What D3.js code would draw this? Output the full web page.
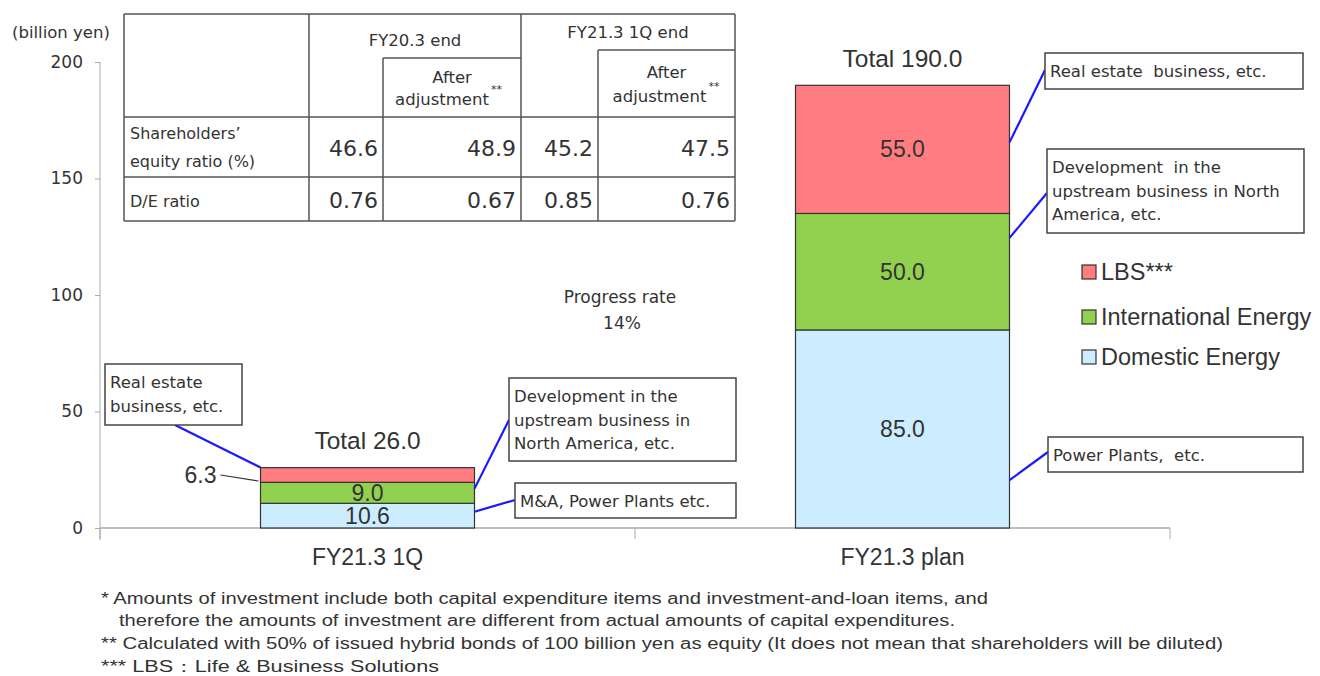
<!DOCTYPE html>
<html>
<head>
<meta charset="utf-8">
<title>Investment by segment</title>
<script src="https://cdn.jsdelivr.net/npm/d3@7"></script>
<style>
  body { margin: 0; background: #fff; }
  svg { display: block; }
  text { fill: #333; }
</style>
</head>
<body>
<div id="chart"></div>
<script>
// data
var categories = ["FY21.3 1Q", "FY21.3 plan"];
var segNames = ["Domestic Energy", "International Energy", "LBS***"];
var domestic = [10.6, 85.0];
var international = [9.0, 50.0];
var lbs = [6.3, 55.0];
var totals = [26.0, 190.0];
var yTicks = [0, 50, 100, 150, 200];

// table data
var tableRowLabels = [["Shareholders\u2019", "equity ratio (%)"], ["D/E ratio"]];
var equityRatio = [46.6, 48.9, 45.2, 47.5];
var deRatio = [0.76, 0.67, 0.85, 0.76];
var tableHeads = ["FY20.3 end", "FY21.3 1Q end"];

var progressRate = 14;

var footnotes = [
  "* Amounts of investment include both capital expenditure items and investment-and-loan items, and",
  "therefore the amounts of investment are different from actual amounts of capital expenditures.",
  "** Calculated with 50% of issued hybrid bonds of 100 billion yen as equity (It does not mean that shareholders will be diluted)",
  "*** LBS\uFF1ALife & Business Solutions"
];

var colors = { "Domestic Energy": "#CCECFF", "International Energy": "#92D050", "LBS***": "#FF7C80" };

var W = 1320, H = 676;
var svg = d3.select("#chart").append("svg").attr("width", W).attr("height", H);

var x = d3.scaleBand().domain(categories).range([100, 1170]).paddingInner(0.6).paddingOuter(0.3);
var y = d3.scaleLinear().domain([0, 200]).range([528, 62]);

// stacked rows
var rows = categories.map(function(c, i) {
  return { cat: c, "Domestic Energy": domestic[i], "International Energy": international[i], "LBS***": lbs[i] };
});
var series = d3.stack().keys(segNames)(rows);

// y axis
var yAxis = svg.append("g").attr("transform", "translate(100,0)")
  .call(d3.axisLeft(y).tickValues(yTicks).tickSize(5).tickSizeOuter(0).tickPadding(12));
yAxis.select(".domain").attr("stroke", "#aaa").attr("d", "M0," + y(200) + "V540");
yAxis.selectAll(".tick line").attr("stroke", "#aaa");
yAxis.selectAll(".tick text").style("font", "17px 'DejaVu Sans'").style("fill", "#333");

svg.append("text").attr("x", 12).attr("y", 38).style("font", "16.5px 'DejaVu Sans'").text("(billion yen)");

// x axis
var xAxis = svg.append("g").attr("transform", "translate(0," + y(0) + ")");
xAxis.append("line").attr("x1", 100).attr("x2", 1170).attr("stroke", "#aaa").attr("stroke-width", 1.5);
var bounds = [x.range()[0], (x(categories[0]) + x.bandwidth() + x(categories[1])) / 2, x.range()[1]];
xAxis.selectAll("line.tk").data(bounds).enter().append("line")
  .attr("x1", function(d) { return d; }).attr("x2", function(d) { return d; })
  .attr("y1", 0).attr("y2", 11).attr("stroke", "#aaa");
xAxis.selectAll("text").data(categories).enter().append("text")
  .attr("x", function(d) { return x(d) + x.bandwidth() / 2; })
  .attr("y", 37).attr("text-anchor", "middle")
  .style("font", "23px 'Liberation Sans'")
  .text(function(d) { return d; });

// bars
svg.append("g").selectAll("g").data(series).enter().append("g")
  .attr("fill", function(s) { return colors[s.key]; })
  .selectAll("rect").data(function(s) { return s; }).enter().append("rect")
  .attr("x", function(d) { return x(d.data.cat); })
  .attr("y", function(d) { return y(d[1]); })
  .attr("width", x.bandwidth())
  .attr("height", function(d) { return y(d[0]) - y(d[1]); })
  .attr("stroke", "#333").attr("stroke-width", 1.2);

// value labels inside bars (LBS of 1Q is outside)
series.forEach(function(s) {
  s.forEach(function(d, i) {
    var v = d[1] - d[0];
    var cx = x(d.data.cat) + x.bandwidth() / 2;
    var cy = y((d[0] + d[1]) / 2);
    if (s.key === "LBS***" && i === 0) {
      svg.append("text").attr("x", x(d.data.cat) - 44).attr("y", cy + 8)
        .attr("text-anchor", "end").style("font", "23px 'Liberation Sans'").text(v.toFixed(1));
      svg.append("line").attr("x1", x(d.data.cat) - 40).attr("y1", cy)
        .attr("x2", x(d.data.cat) - 2).attr("y2", cy + 6).attr("stroke", "#333").attr("stroke-width", 1.2);
      return;
    }
    svg.append("text").attr("x", cx).attr("y", cy + 8).attr("text-anchor", "middle")
      .style("font", "23px 'Liberation Sans'").text(v.toFixed(1));
  });
});

// totals
svg.selectAll("text.total").data(categories).enter().append("text")
  .attr("class", "total")
  .attr("x", function(d) { return x(d) + x.bandwidth() / 2; })
  .attr("y", function(d, i) { return y(totals[i]) - 18; })
  .attr("text-anchor", "middle")
  .style("font", "24.5px 'Liberation Sans'")
  .text(function(d, i) { return "Total " + totals[i].toFixed(1); });

// callouts: box layout + anchor on bar (cat index, side, value)
var callouts = [
  { lines: ["Real estate", "business, etc."], box: [105, 364, 137, 61], cat: 0, side: "left", v: 26.0, from: [175, 425] },
  { lines: ["Development in the", "upstream business in", "North America, etc."], box: [509, 378, 227, 83], cat: 0, side: "right", v: 16.9, from: [509, 420] },
  { lines: ["M&A, Power Plants etc."], box: [515, 483, 221, 35], cat: 0, side: "right", v: 7.0, from: [515, 500] },
  { lines: ["Real estate  business, etc."], box: [1045, 53, 258, 36], cat: 1, side: "right", v: 165.5, from: [1045, 70] },
  { lines: ["Development  in the", "upstream business in North", "America, etc."], box: [1047, 149, 257, 84], cat: 1, side: "right", v: 124.5, from: [1047, 193] },
  { lines: ["Power Plants,  etc."], box: [1048, 437, 255, 35], cat: 1, side: "right", v: 20.5, from: [1048, 452] }
];

callouts.forEach(function(c) {
  var bx = c.side === "left" ? x(categories[c.cat]) : x(categories[c.cat]) + x.bandwidth();
  svg.append("line").attr("x1", c.from[0]).attr("y1", c.from[1])
    .attr("x2", bx).attr("y2", y(c.v)).attr("stroke", "#1a1aff").attr("stroke-width", 2.2);
  svg.append("rect").attr("x", c.box[0]).attr("y", c.box[1]).attr("width", c.box[2]).attr("height", c.box[3])
    .attr("fill", "#fff").attr("stroke", "#444").attr("stroke-width", 1.5);
  c.lines.forEach(function(t, k) {
    svg.append("text").attr("x", c.box[0] + 5).attr("y", c.box[1] + 24 + k * 23.5)
      .style("font", "16.5px 'DejaVu Sans'").style("white-space", "pre").text(t);
  });
});

// legend
var legend = svg.append("g").attr("transform", "translate(1082,0)");
var legendY = [272, 317, 357];
segNames.slice().reverse().forEach(function(n, i) {
  legend.append("rect").attr("x", 0).attr("y", legendY[i] - 7).attr("width", 14).attr("height", 14)
    .attr("fill", colors[n]).attr("stroke", "#333").attr("stroke-width", 1.2);
  legend.append("text").attr("x", 19).attr("y", legendY[i] + 8)
    .style("font", "23.5px 'Liberation Sans'").text(n);
});

// progress rate
svg.append("text").attr("x", 620).attr("y", 303).attr("text-anchor", "middle")
  .style("font", "17px 'DejaVu Sans'").text("Progress rate");
svg.append("text").attr("x", 622).attr("y", 329).attr("text-anchor", "middle")
  .style("font", "17px 'DejaVu Sans'").text(progressRate + "%");

// table
var tb = svg.append("g");
var colX = [124, 309, 383, 521, 598, 735];
var rowY = [14, 117, 177, 221];
var tl = "#555";
function tline(x1, y1, x2, y2) {
  tb.append("line").attr("x1", x1).attr("y1", y1).attr("x2", x2).attr("y2", y2)
    .attr("stroke", tl).attr("stroke-width", 1.5);
}
tline(colX[0], rowY[0], colX[5], rowY[0]);
rowY.slice(1).forEach(function(r) { tline(colX[0], r, colX[5], r); });
[0, 1, 3, 5].forEach(function(i) { tline(colX[i], rowY[0], colX[i], rowY[3]); });
tline(colX[2], 58, colX[2], rowY[3]);
tline(colX[4], 50, colX[4], rowY[3]);
tline(colX[2], 58, colX[3], 58);
tline(colX[4], 50, colX[5], 50);

var tfont = "16.5px 'DejaVu Sans'";
tb.append("text").attr("x", (colX[1] + colX[3]) / 2).attr("y", 46).attr("text-anchor", "middle").style("font", tfont).text(tableHeads[0]);
tb.append("text").attr("x", (colX[3] + colX[5]) / 2).attr("y", 38).attr("text-anchor", "middle").style("font", tfont).text(tableHeads[1]);
[[colX[2], colX[3], 83, 105, -10], [colX[4], colX[5], 78, 102, -7]].forEach(function(h) {
  var cx = (h[0] + h[1]) / 2;
  tb.append("text").attr("x", cx).attr("y", h[2]).attr("text-anchor", "middle").style("font", tfont).text("After");
  tb.append("text").attr("x", cx + h[4]).attr("y", h[3]).attr("text-anchor", "middle").style("font", tfont).text("adjustment");
  tb.append("text").attr("x", cx + h[4] + 49).attr("y", h[3] - 12).style("font", "11px 'DejaVu Sans'").text("**");
});
tableRowLabels.forEach(function(lab, r) {
  lab.forEach(function(t, k) {
    tb.append("text").attr("x", 130).attr("y", r === 0 ? 139 + k * 28 : 207).style("font", "16px 'DejaVu Sans'").text(t);
  });
});
[equityRatio, deRatio].forEach(function(vals, r) {
  var cy = r === 0 ? 156 : 208;
  vals.forEach(function(v, j) {
    var right = [colX[2], colX[3], colX[4], colX[5]][j] - 5;
    tb.append("text").attr("x", right).attr("y", cy).attr("text-anchor", "end")
      .style("font", "22px 'DejaVu Sans'").text(r === 0 ? v.toFixed(1) : v.toFixed(2));
  });
});

// footnotes
var fnX = [101, 119, 101, 101];
var fnY = [604, 626, 649, 672];
var fnW = [887, 836, 1122, 338];
footnotes.forEach(function(t, i) {
  svg.append("text").attr("x", fnX[i]).attr("y", fnY[i])
    .attr("textLength", fnW[i]).attr("lengthAdjust", "spacingAndGlyphs")
    .style("font", "16px 'Liberation Sans'").text(t);
});
</script>
</body>
</html>
